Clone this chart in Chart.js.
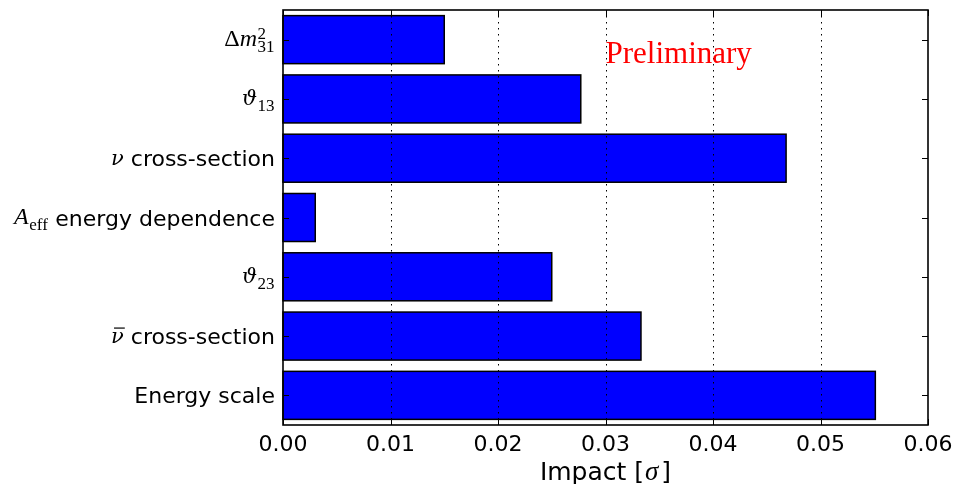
<!DOCTYPE html>
<html>
<head>
<meta charset="utf-8">
<script src="https://cdn.jsdelivr.net/npm/chart.js@4/dist/chart.umd.min.js"></script>
<style>
  html, body { margin: 0; padding: 0; background: #fff; }
  #wrap { width: 957px; height: 484px; }
</style>
</head>
<body>
<div id="wrap"><canvas id="impactChart" width="957" height="484"></canvas></div>
<script>
// 카테고리 (위에서 아래 순서)
const categories = ['dm31', 'th13', 'nuxs', 'aeff', 'th23', 'nubarxs', 'escale'];
// 각 계통오차의 영향 [sigma]
const impacts = [0.0150, 0.0277, 0.0468, 0.0030, 0.0250, 0.0333, 0.0551];
// x축 눈금
const xTicks = [0.00, 0.01, 0.02, 0.03, 0.04, 0.05, 0.06];

const SANS = '"DejaVu Sans", sans-serif';
const SERIF = '"Liberation Serif", "DejaVu Serif", serif';
const GREEK = '"DejaVu Serif", serif';

// 라벨 조각: s = 일반 텍스트, m = 수식 이탤릭, g = 그리스 문자, r = 수식 정체
const labelParts = {
    dm31:   [{ r: 'Δ' }, { m: 'm', sup: '2', sub: '31' }],
    th13:   [{ g: 'ϑ', sub: '13' }],
    nuxs:   [{ g: 'ν' }, { s: ' cross-section' }],
    aeff:   [{ m: 'A', sub: 'eff' }, { s: ' energy dependence' }],
    th23:   [{ g: 'ϑ', sub: '23' }],
    nubarxs:[{ g: 'ν', bar: true }, { s: ' cross-section' }],
    escale: [{ s: 'Energy scale' }]
};

function partFont(p) {
    if (p.s !== undefined) return '22px ' + SANS;
    if (p.m !== undefined) return 'italic 24px ' + SERIF;
    if (p.g !== undefined) return 'italic 21px ' + GREEK;
    return '24px ' + SERIF;
}

function partText(p) {
    return p.s ?? p.m ?? p.g ?? p.r;
}

function measurePart(ctx, p) {
    ctx.font = partFont(p);
    const w = ctx.measureText(partText(p)).width;
    let extra = 0;
    ctx.font = '17px ' + SERIF;
    if (p.sub) extra = Math.max(extra, ctx.measureText(p.sub).width + 1);
    if (p.sup) extra = Math.max(extra, ctx.measureText(p.sup).width + 1);
    return { w, extra };
}

function drawLabel(ctx, key, rightX, y) {
    const parts = labelParts[key];
    const sizes = parts.map(p => measurePart(ctx, p));
    const total = sizes.reduce((a, s) => a + s.w + s.extra, 0);
    let x = rightX - total;
    ctx.fillStyle = '#000';
    ctx.textAlign = 'left';
    ctx.textBaseline = 'alphabetic';
    parts.forEach((p, i) => {
        const base = p.s !== undefined ? y + 8 : y + 6.5;
        ctx.font = partFont(p);
        ctx.fillText(partText(p), x, base);
        if (p.bar) {
            ctx.strokeStyle = '#000';
            ctx.lineWidth = 1.2;
            ctx.beginPath();
            ctx.moveTo(x + 3, y - 8);
            ctx.lineTo(x + sizes[i].w + 1, y - 8);
            ctx.stroke();
        }
        const sx = x + sizes[i].w + 0.5;
        ctx.font = '17px ' + SERIF;
        if (p.sub) ctx.fillText(p.sub, sx, y + 12.5);
        if (p.sup) ctx.fillText(p.sup, sx, y - 1);
        x += sizes[i].w + sizes[i].extra;
    });
}

// 축, 눈금, 라벨 그리기 플러그인
const axesPlugin = {
    id: 'axesPlugin',
    afterDraw(chart) {
        const { ctx, chartArea: a, scales: { x, y } } = chart;
        ctx.save();
        // 막대 테두리
        ctx.strokeStyle = '#000';
        ctx.lineWidth = 1.5;
        chart.getDatasetMeta(0).data.forEach(bar => {
            const h = bar.height;
            ctx.strokeRect(bar.base, bar.y - h / 2, bar.x - bar.base, h);
        });
        // 점선 격자 (막대 위에)
        ctx.lineWidth = 1;
        ctx.setLineDash([1.5, 4.5]);
        ctx.beginPath();
        x.ticks.forEach((t, i) => {
            if (i === 0 || i === x.ticks.length - 1) return;
            const px = Math.round(x.getPixelForTick(i)) + 0.5;
            ctx.moveTo(px, a.top); ctx.lineTo(px, a.bottom);
        });
        ctx.stroke();
        ctx.setLineDash([]);
        // 틀
        ctx.lineWidth = 1.6;
        ctx.strokeRect(a.left, a.top, a.right - a.left, a.bottom - a.top);
        // 안쪽 눈금
        ctx.lineWidth = 1;
        ctx.beginPath();
        x.ticks.forEach((t, i) => {
            const px = Math.round(x.getPixelForTick(i)) + 0.5;
            ctx.moveTo(px, a.bottom); ctx.lineTo(px, a.bottom - 6);
            ctx.moveTo(px, a.top); ctx.lineTo(px, a.top + 6);
        });
        y.ticks.forEach((t, i) => {
            const py = Math.round(y.getPixelForTick(i)) + 0.5;
            ctx.moveTo(a.left, py); ctx.lineTo(a.left + 6, py);
            ctx.moveTo(a.right, py); ctx.lineTo(a.right - 6, py);
        });
        ctx.stroke();
        // x축 눈금 라벨
        ctx.fillStyle = '#000';
        ctx.font = '22px ' + SANS;
        ctx.textAlign = 'center';
        ctx.textBaseline = 'alphabetic';
        x.ticks.forEach((t, i) => {
            ctx.fillText(t.value.toFixed(2), x.getPixelForTick(i), 451);
        });
        // x축 제목
        ctx.textAlign = 'left';
        ctx.font = '25px ' + SANS;
        const t1 = 'Impact [';
        const w1 = ctx.measureText(t1).width;
        ctx.font = 'italic 27px ' + SERIF;
        const w2 = ctx.measureText('σ').width;
        ctx.font = '25px ' + SANS;
        const w3 = ctx.measureText(']').width;
        const tx = (a.left + a.right) / 2 - (w1 + w2 + w3 + 4) / 2;
        ctx.fillText(t1, tx, 480);
        ctx.font = 'italic 27px ' + SERIF;
        ctx.fillText('σ', tx + w1 + 1, 480);
        ctx.font = '25px ' + SANS;
        ctx.fillText(']', tx + w1 + w2 + 4, 480);
        // y축 라벨
        categories.forEach((c, i) => {
            drawLabel(ctx, c, a.left - 8, y.getPixelForValue(i));
        });
        // Preliminary
        ctx.fillStyle = '#ff0000';
        ctx.font = '31px ' + SERIF;
        ctx.fillText('Preliminary', x.getPixelForValue(0.03), 63);
        ctx.restore();
    }
};

const ctx = document.getElementById('impactChart').getContext('2d');
new Chart(ctx, {
    type: 'bar',
    data: {
        labels: categories,
        datasets: [{
            data: impacts,
            backgroundColor: '#0000ff',
            borderWidth: 0,
            categoryPercentage: 1.0,
            barPercentage: 0.81
        }]
    },
    options: {
        indexAxis: 'y',
        responsive: false,
        animation: false,
        devicePixelRatio: 1,
        layout: { padding: { left: 283, right: 29, top: 10, bottom: 59 } },
        plugins: {
            legend: { display: false },
            tooltip: { enabled: false }
        },
        scales: {
            x: {
                type: 'linear',
                min: 0,
                max: 0.06,
                afterBuildTicks: s => { s.ticks = xTicks.map(v => ({ value: v })); },
                afterFit: s => { s.height = 0; },
                ticks: { display: false },
                border: { display: false },
                grid: { display: false, drawTicks: false }
            },
            y: {
                type: 'category',
                afterFit: s => { s.width = 0; },
                ticks: { display: false },
                border: { display: false },
                grid: { display: false, drawTicks: false }
            }
        }
    },
    plugins: [axesPlugin]
});
</script>
</body>
</html>
